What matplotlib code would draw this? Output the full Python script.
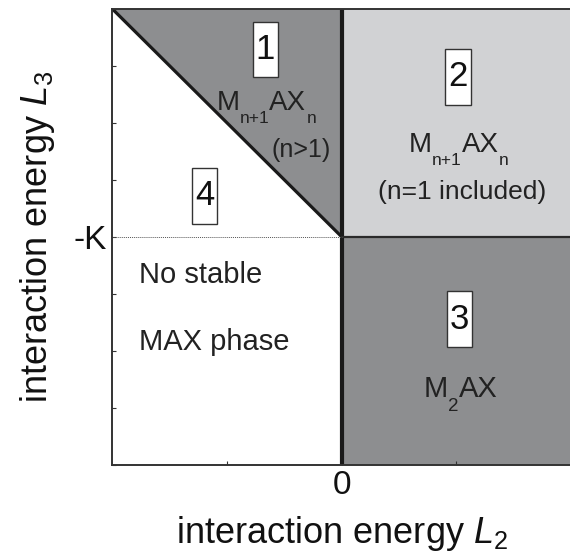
import matplotlib.pyplot as plt
from matplotlib.patches import Rectangle

plt.rcParams['font.family'] = ['Liberation Sans', 'DejaVu Sans']
plt.rcParams['mathtext.fontset'] = 'custom'
plt.rcParams['mathtext.rm'] = 'Liberation Sans'
plt.rcParams['mathtext.it'] = 'Liberation Sans:italic'

K = 1.0
L2_range = [-1.0, 1.0]
L3_range = [-2 * K, 0.0]

# boundaries of the phase regions (L2, L3)
diag_L2 = [-1.0, 0.0]
diag_L3 = [0.0, -K]
region1_L2 = [-1.0, 0.0, 0.0]
region1_L3 = [0.0, 0.0, -K]
region2_L2 = [0.0, 1.0, 1.0, 0.0]
region2_L3 = [0.0, 0.0, -K, -K]
region3_L2 = [0.0, 1.0, 1.0, 0.0]
region3_L3 = [-K, -K, -2 * K, -2 * K]

region_ids = ['1', '2', '3', '4']
region_id_pos = [(-0.332, -0.178), (0.507, -0.298), (0.513, -1.362), (-0.598, -0.82)]

dark = '#8d8e90'
light = '#d1d2d4'
ink = '#222222'

fig = plt.figure(figsize=(5.7, 5.54), dpi=100)
ax = fig.add_axes([0.197, 0.161, 0.805, 0.823])

ax.fill(region1_L2, region1_L3, color=dark, lw=0)
ax.fill(region2_L2, region2_L3, color=light, lw=0)
ax.fill(region3_L2, region3_L3, color=dark, lw=0)

ax.plot(diag_L2, diag_L3, color='#1a1a1a', lw=2.3, solid_capstyle='butt')
ax.plot([0, 0], L3_range, color='#1a1a1a', lw=3, solid_capstyle='butt')
ax.plot([0, 1], [-K, -K], color='#2a2a2a', lw=1.6)
ax.plot([-1, 0], [-K, -K], color='#555555', lw=0.7, ls=(0, (1, 1)))

bw, bh = 0.11, 0.245
for lab, (cx, cy) in zip(region_ids, region_id_pos):
    ax.add_patch(Rectangle((cx - bw / 2, cy - bh / 2), bw, bh, fc='white', ec='#333333', lw=1.0, zorder=3))
    ax.text(cx, cy, lab, fontsize=25, ha='center', va='center', color='#111111', zorder=4)


def formula(x, y, parts, size=20, subsize=12.5, drop=7):
    # chain text pieces so subscripts sit low like in the original figure
    first = ax.text(x, y, parts[0][0], fontsize=size, va='baseline', ha='left', color=ink)
    main_ref = first
    prev = first
    for s, sub in parts[1:]:
        if sub:
            t = ax.annotate(s, xy=(1, 0), xycoords=(prev, main_ref), xytext=(0, -drop),
                            textcoords='offset points', fontsize=subsize, va='bottom', ha='left', color=ink)
        else:
            t = ax.annotate(s, xy=(1, 0), xycoords=(prev, main_ref), xytext=(0, 0),
                            textcoords='offset points', fontsize=size, va='bottom', ha='left', color=ink)
        prev = t


formula(-0.545, -0.443, [('M', False), ('n+1', True), ('AX', False), ('n', True)])
formula(0.293, -0.627, [('M', False), ('n+1', True), ('AX', False), ('n', True)])
formula(0.358, -1.702, [('M', False), ('2', True), ('AX', False)], size=21, subsize=13.5, drop=8.5)

ax.text(-0.179, -0.649, '(n>1)', fontsize=18, ha='center', va='baseline', color=ink)
ax.text(0.524, -0.833, '(n=1 included)', fontsize=19, ha='center', va='baseline', color=ink)
ax.text(-0.885, -1.202, 'No stable', fontsize=21, ha='left', va='baseline', color=ink)
ax.text(-0.885, -1.496, 'MAX phase', fontsize=21, ha='left', va='baseline', color=ink)

ax.set_xlim(L2_range)
ax.set_ylim(L3_range)
ax.set_xticks([-0.5, 0, 0.5])
ax.set_xticklabels(['', '0', ''])
ax.set_yticks([-2, -1.75, -1.5, -1.25, -1, -0.75, -0.5, -0.25, 0])
ax.set_yticklabels(['', '', '', '', '-K', '', '', '', ''])
ax.tick_params(direction='in', length=3, width=0.8, labelsize=24, pad=4, colors='#333333', labelcolor='#111111')
for s in ax.spines.values():
    s.set_linewidth(1.4)
    s.set_color('#333333')

ax.set_xlabel(r'interaction energy $L_2$', fontsize=26, labelpad=9, color='#111111')
ax.set_ylabel(r'interaction energy $L_3$', fontsize=26, labelpad=12, color='#111111')

fig.savefig('out.png', dpi=100)
